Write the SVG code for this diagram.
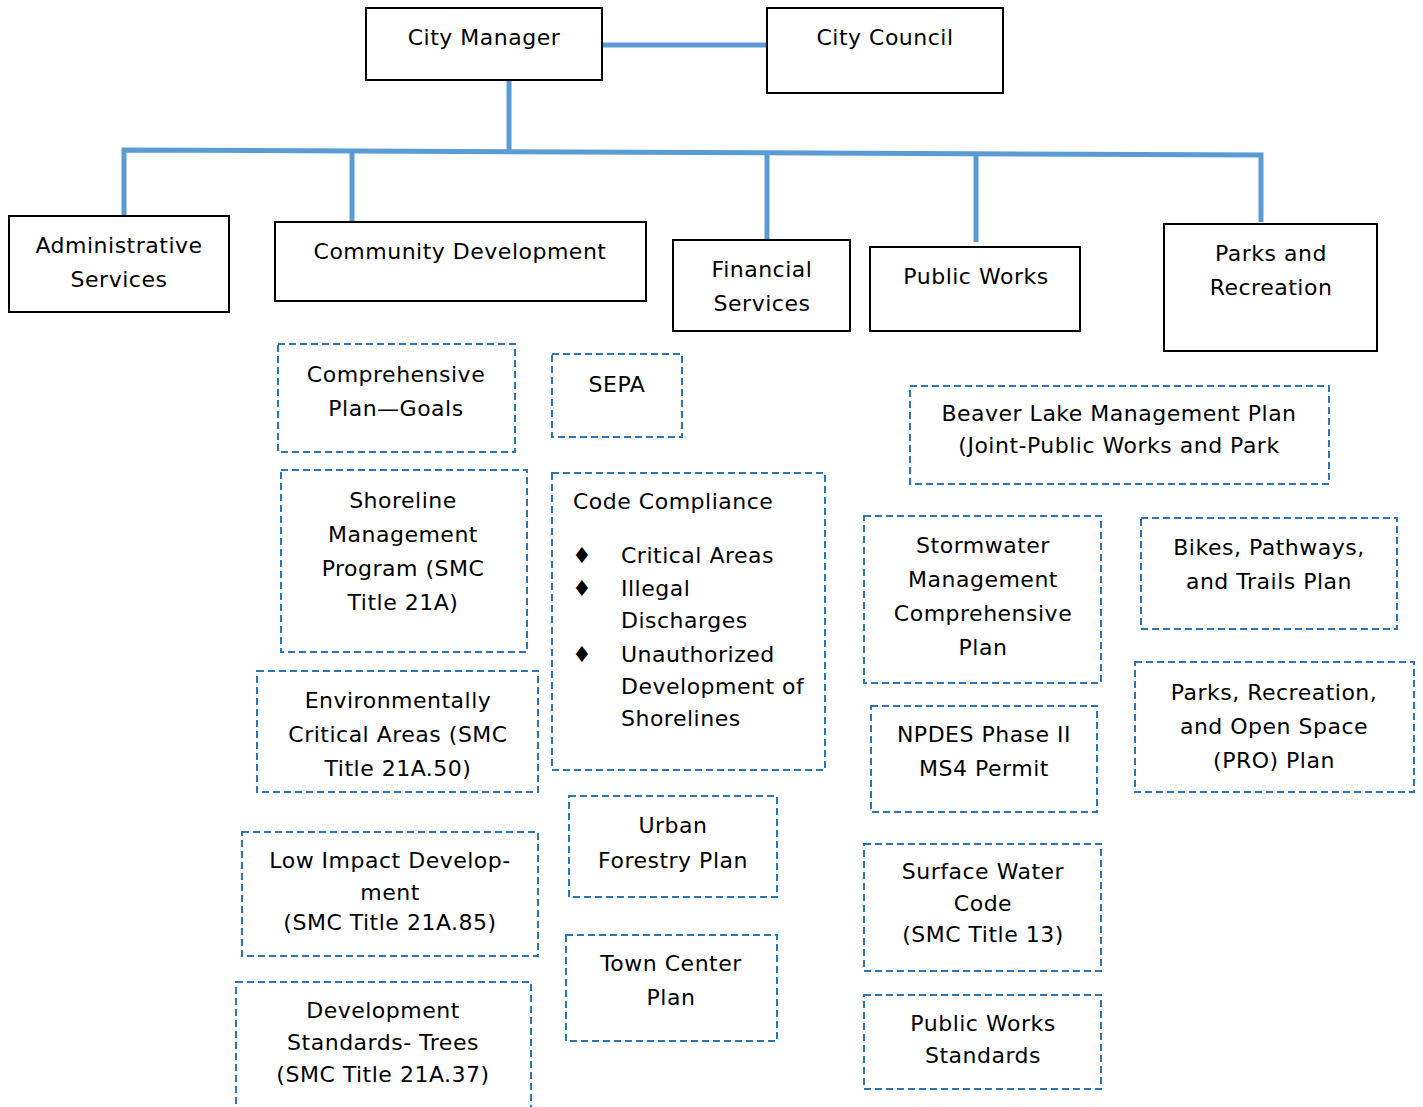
<svg xmlns="http://www.w3.org/2000/svg" width="1423" height="1107" viewBox="0 0 1423 1107">
<style>
text{font-family:"DejaVu Sans","Liberation Sans",sans-serif;font-size:22px;fill:#000;text-anchor:middle;letter-spacing:0.5px}
.solid{fill:#fff;stroke:#000;stroke-width:2}
.dash{fill:#fff;stroke:#2E75B6;stroke-width:2;stroke-dasharray:7 4}
.conn{fill:none;stroke:#5B9BD5;stroke-width:5}
.l{text-anchor:start}
</style>
<rect width="1423" height="1107" fill="#fff"/>
<g id="connectors">
<line class="conn" x1="602" y1="45" x2="767" y2="45"/>
<line class="conn" x1="509" y1="80" x2="509" y2="152"/>
<polyline class="conn" points="124,216 124,150 1261,155 1261,222"/>
<line class="conn" x1="352" y1="151" x2="352" y2="222"/>
<line class="conn" x1="767" y1="153" x2="767" y2="240"/>
<line class="conn" x1="976" y1="154" x2="976" y2="242"/>
</g>
<g id="city-manager"><rect class="solid" x="366" y="8" width="236" height="72"/><text x="484" y="45">City Manager</text></g>
<g id="city-council"><rect class="solid" x="767" y="8" width="236" height="85"/><text x="885" y="45">City Council</text></g>
<g id="administrative-services"><rect class="solid" x="9" y="216" width="220" height="96"/><text x="119" y="253">Administrative</text><text x="119" y="287">Services</text></g>
<g id="community-development"><rect class="solid" x="275" y="222" width="371" height="79"/><text x="460" y="259">Community Development</text></g>
<g id="financial-services"><rect class="solid" x="673" y="240" width="177" height="91"/><text x="762" y="277">Financial</text><text x="762" y="311">Services</text></g>
<g id="public-works"><rect class="solid" x="870" y="247" width="210" height="84"/><text x="976" y="284">Public Works</text></g>
<g id="parks-recreation"><rect class="solid" x="1164" y="224" width="213" height="127"/><text x="1271" y="261">Parks and</text><text x="1271" y="295">Recreation</text></g>

<g id="comprehensive-plan"><rect class="dash" x="278" y="344" width="237" height="108"/><text x="396" y="382">Comprehensive</text><text x="396" y="416">Plan—Goals</text></g>
<g id="sepa"><rect class="dash" x="552" y="354" width="130" height="83"/><text x="617" y="392">SEPA</text></g>
<g id="shoreline"><rect class="dash" x="281" y="470" width="246" height="182"/><text x="403" y="508">Shoreline</text><text x="403" y="542">Management</text><text x="403" y="576">Program (SMC</text><text x="403" y="610">Title 21A)</text></g>
<g id="code-compliance"><rect class="dash" x="552" y="473" width="273" height="297"/><text class="l" x="573" y="509">Code Compliance</text>
<text x="582" y="563">♦</text><text class="l" x="621" y="563">Critical Areas</text>
<text x="582" y="596">♦</text><text class="l" x="621" y="596">Illegal</text><text class="l" x="621" y="628">Discharges</text>
<text x="582" y="662">♦</text><text class="l" x="621" y="662">Unauthorized</text><text class="l" x="621" y="694">Development of</text><text class="l" x="621" y="726">Shorelines</text></g>
<g id="environmentally-critical"><rect class="dash" x="257" y="671" width="281" height="121"/><text x="398" y="708">Environmentally</text><text x="398" y="742">Critical Areas (SMC</text><text x="398" y="776">Title 21A.50)</text></g>
<g id="urban-forestry"><rect class="dash" x="569" y="796" width="208" height="101"/><text x="673" y="833">Urban</text><text x="673" y="868">Forestry Plan</text></g>
<g id="low-impact"><rect class="dash" x="242" y="832" width="296" height="124"/><text x="390" y="868">Low Impact Develop-</text><text x="390" y="900">ment</text><text x="390" y="930">(SMC Title 21A.85)</text></g>
<g id="town-center"><rect class="dash" x="566" y="935" width="211" height="106"/><text x="671" y="971">Town Center</text><text x="671" y="1005">Plan</text></g>
<g id="development-standards"><rect class="dash" x="236" y="982" width="295" height="140"/><text x="383" y="1018">Development</text><text x="383" y="1050">Standards- Trees</text><text x="383" y="1082">(SMC Title 21A.37)</text></g>

<g id="beaver-lake"><rect class="dash" x="910" y="386" width="419" height="98"/><text x="1119" y="421">Beaver Lake Management Plan</text><text x="1119" y="453">(Joint-Public Works and Park</text></g>
<g id="stormwater"><rect class="dash" x="864" y="516" width="237" height="167"/><text x="983" y="553">Stormwater</text><text x="983" y="587">Management</text><text x="983" y="621">Comprehensive</text><text x="983" y="655">Plan</text></g>
<g id="npdes"><rect class="dash" x="871" y="706" width="226" height="106"/><text x="984" y="742">NPDES Phase II</text><text x="984" y="776">MS4 Permit</text></g>
<g id="surface-water"><rect class="dash" x="864" y="844" width="237" height="127"/><text x="983" y="879">Surface Water</text><text x="983" y="911">Code</text><text x="983" y="942">(SMC Title 13)</text></g>
<g id="public-works-standards"><rect class="dash" x="864" y="995" width="237" height="94"/><text x="983" y="1031">Public Works</text><text x="983" y="1063">Standards</text></g>
<g id="bikes"><rect class="dash" x="1141" y="518" width="256" height="111"/><text x="1269" y="555">Bikes, Pathways,</text><text x="1269" y="589">and Trails Plan</text></g>
<g id="pro-plan"><rect class="dash" x="1135" y="662" width="279" height="130"/><text x="1274" y="700">Parks, Recreation,</text><text x="1274" y="734">and Open Space</text><text x="1274" y="768">(PRO) Plan</text></g>
</svg>
